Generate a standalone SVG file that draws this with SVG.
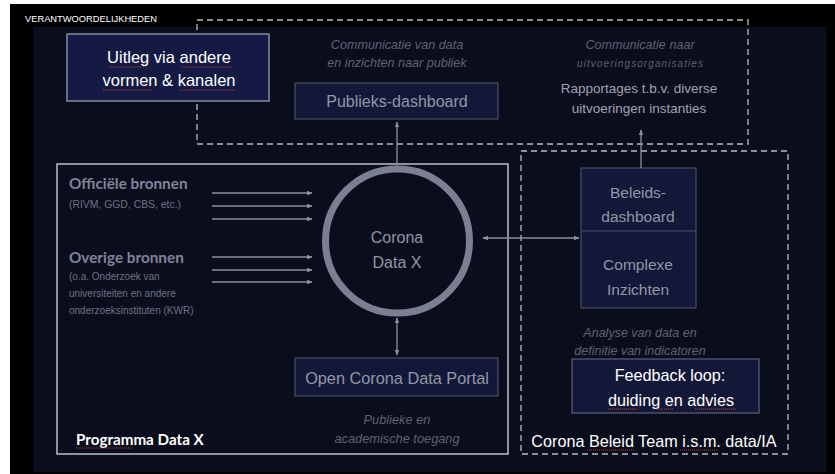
<svg xmlns="http://www.w3.org/2000/svg" width="835" height="474" viewBox="0 0 835 474">
<style>
.t{font-family:"Liberation Sans",Arial,sans-serif;font-variant-ligatures:none}
.b{font-family:Lato,"Open Sans",sans-serif;font-weight:bold}
.it{font-family:"Liberation Sans",Arial,sans-serif;font-style:italic;fill:#5e6272}
.grey{fill:#9296a6}
.box{fill:#141838;stroke:#4a4f66;stroke-width:1.2}
.dash{fill:none;stroke:#b8bcc8;stroke-width:1.3;stroke-dasharray:6 4}
.ar{stroke:#8a8e9e;stroke-width:1.3;fill:none}
.sq{stroke:#c0392b;stroke-width:1;stroke-dasharray:1 1;fill:none}
</style>
<defs>
<marker id="ah" viewBox="0 0 8 8" refX="7" refY="4" markerWidth="6" markerHeight="6" orient="auto-start-reverse" markerUnits="userSpaceOnUse">
<path d="M0,1 L8,4 L0,7 z" fill="#8a8e9e"/>
</marker>
</defs>
<rect x="0" y="0" width="835" height="474" fill="#ffffff"/>
<rect x="10" y="4" width="825" height="470" fill="#000000"/>
<rect x="33" y="27" width="794" height="445" fill="#0a0d1c"/>
<text x="25" y="22" class="t" font-size="9.2" fill="#ffffff" textLength="132" lengthAdjust="spacingAndGlyphs">VERANTWOORDELIJKHEDEN</text>

<g id="top-dashed"><rect x="197" y="20" width="551" height="124" class="dash"/></g>
<g id="right-dashed"><rect x="521" y="151" width="267" height="303" class="dash"/></g>
<g id="programma"><rect x="57" y="164" width="451" height="290" fill="none" stroke="#d8dae2" stroke-width="1.3"/>
<text x="76" y="445" class="b" font-size="15.2" fill="#ffffff">Programma Data X</text>
<path d="M76,448 H134" class="sq"/></g>

<g id="uitleg">
<rect x="67" y="34" width="202" height="67" fill="#151a45" stroke="#9a9eb0" stroke-width="1.3"/>
<text x="169" y="63" class="t" font-size="16.5" fill="#ffffff" text-anchor="middle">Uitleg via andere</text>
<text x="169" y="86" class="t" font-size="16.5" fill="#ffffff" text-anchor="middle">vormen &amp; kanalen</text>
<path d="M109,67 H147 M182,67 H232 M103,90 H152 M180,90 H235" class="sq"/>
</g>

<g id="publiek-comm">
<text x="397" y="49" class="it" font-size="12.6" text-anchor="middle">Communicatie van data</text>
<text x="397" y="67" class="it" font-size="12.6" text-anchor="middle">en inzichten naar publiek</text>
</g>
<g id="publieks-dashboard">
<rect x="295" y="83" width="203" height="36" class="box"/>
<text x="397" y="107" class="t grey" font-size="16" text-anchor="middle">Publieks-dashboard</text>
</g>

<g id="uitvoering-comm">
<text x="640" y="49" class="it" font-size="12.6" text-anchor="middle">Communicatie naar</text>
<text x="640" y="67" class="it" font-size="10" text-anchor="middle" textLength="126" lengthAdjust="spacing">uitvoeringsorganisaties</text>
</g>
<g id="rapportages">
<text x="639" y="93" class="t" font-size="13.5" fill="#a0a4b2" text-anchor="middle">Rapportages t.b.v. diverse</text>
<text x="639" y="113" class="t" font-size="13.5" fill="#a0a4b2" text-anchor="middle">uitvoeringen instanties</text>
</g>

<g id="officiele">
<text x="69" y="189" class="b" font-size="15.3" fill="#80849a">Officiële bronnen</text>
<text x="69" y="208" class="t" font-size="10.4" fill="#6e7284">(RIVM, GGD, CBS, etc.)</text>
</g>
<g id="overige">
<text x="69" y="263" class="b" font-size="15.3" fill="#80849a">Overige bronnen</text>
<text x="69" y="280" class="t" font-size="10" fill="#6e7284">(o.a. Onderzoek van</text>
<text x="69" y="297" class="t" font-size="10" fill="#6e7284">universiteiten en andere</text>
<text x="69" y="314" class="t" font-size="10" fill="#6e7284">onderzoeksinstituten (KWR)</text>
</g>

<g id="corona-data-x">
<circle cx="397.5" cy="241" r="72" fill="none" stroke="#7a7f92" stroke-width="7"/>
<text x="397" y="243" class="t grey" font-size="16" text-anchor="middle">Corona</text>
<text x="397" y="268" class="t grey" font-size="16" text-anchor="middle">Data X</text>
</g>

<g id="beleids">
<rect x="581" y="168" width="115" height="140" class="box"/>
<line x1="581" y1="231" x2="696" y2="231" stroke="#4a4f66" stroke-width="1.2"/>
<text x="638" y="198" class="t grey" font-size="15.5" text-anchor="middle">Beleids-</text>
<text x="638" y="222" class="t grey" font-size="15.5" text-anchor="middle">dashboard</text>
<text x="638" y="270" class="t grey" font-size="15.5" text-anchor="middle">Complexe</text>
<text x="638" y="295" class="t grey" font-size="15.5" text-anchor="middle">Inzichten</text>
</g>

<g id="analyse">
<text x="640" y="337" class="it" font-size="12.5" text-anchor="middle">Analyse van data en</text>
<text x="640" y="355" class="it" font-size="12.5" text-anchor="middle">definitie van indicatoren</text>
</g>
<g id="feedback">
<rect x="572" y="359" width="187" height="54" fill="#141838" stroke="#5a5f78" stroke-width="1.2"/>
<text x="670" y="381" class="t" font-size="16.2" fill="#ffffff" text-anchor="middle">Feedback loop:</text>
<text x="671" y="406" class="t" font-size="16.2" fill="#ffffff" text-anchor="middle">duiding en advies</text>
<path d="M608,409 H638 M656,409 H674 M695,409 H736" class="sq"/>
</g>
<g id="beleid-team">
<text x="654" y="447" class="t" font-size="16.2" fill="#ffffff" text-anchor="middle">Corona Beleid Team i.s.m. data/IA</text>
<path d="M587,450 H634 M680,450 H718" class="sq"/>
</g>

<g id="open-portal">
<rect x="295" y="358" width="203" height="38" class="box"/>
<text x="397" y="384" class="t grey" font-size="16.3" text-anchor="middle">Open Corona Data Portal</text>
</g>
<g id="toegang">
<text x="397" y="424" class="it" font-size="12.8" text-anchor="middle">Publieke en</text>
<text x="397" y="443" class="it" font-size="12.8" text-anchor="middle">academische toegang</text>
</g>

<g id="connectors">
<line x1="212" y1="193" x2="312" y2="193" class="ar" marker-end="url(#ah)"/>
<line x1="212" y1="206" x2="312" y2="206" class="ar" marker-end="url(#ah)"/>
<line x1="212" y1="219" x2="312" y2="219" class="ar" marker-end="url(#ah)"/>
<line x1="212" y1="257" x2="312" y2="257" class="ar" marker-end="url(#ah)"/>
<line x1="212" y1="270" x2="312" y2="270" class="ar" marker-end="url(#ah)"/>
<line x1="212" y1="282" x2="312" y2="282" class="ar" marker-end="url(#ah)"/>
<line x1="397" y1="166" x2="397" y2="122" class="ar" marker-end="url(#ah)"/>
<line x1="641" y1="168" x2="641" y2="130" class="ar" marker-end="url(#ah)"/>
<line x1="483" y1="238" x2="579" y2="238" class="ar" marker-start="url(#ah)" marker-end="url(#ah)"/>
<line x1="397" y1="318" x2="397" y2="355" class="ar" marker-start="url(#ah)" marker-end="url(#ah)"/>
</g>
</svg>
